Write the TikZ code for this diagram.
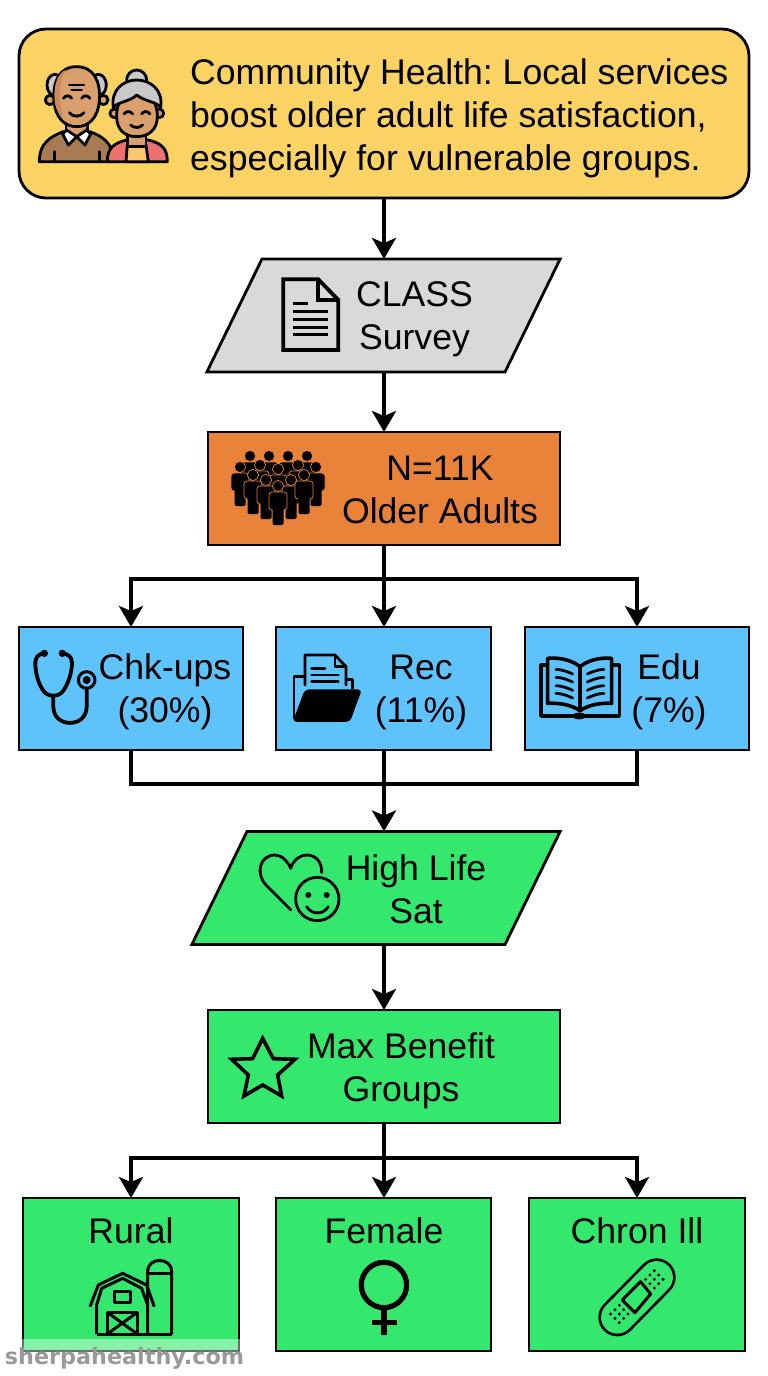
\documentclass[tikz,border=0pt]{standalone}
\usepackage{fontspec}
\setmainfont{Liberation Sans}
\newfontfamily\markfont{DejaVu Sans}
\usetikzlibrary{arrows.meta,shapes.geometric}
\definecolor{titlefill}{HTML}{FBD264}
\definecolor{surveyfill}{HTML}{D9D9D9}
\definecolor{cohortfill}{HTML}{E9833A}
\definecolor{servicefill}{HTML}{5EC3FA}
\definecolor{outcomefill}{HTML}{33E86C}
\definecolor{skin}{HTML}{D9A06E}
\definecolor{skinshade}{HTML}{C98A5E}
\definecolor{sweater}{HTML}{A97B52}
\definecolor{cardigan}{HTML}{EE7070}
\definecolor{blouse}{HTML}{F9C86E}
\definecolor{hair}{HTML}{C9C9C9}
\tikzset{
  box/.style={rectangle, draw, line width=2.8pt, minimum width=#1, minimum height=113pt, inner sep=0pt, outer sep=0pt},
  slanted/.style={trapezium, trapezium left angle=64, trapezium right angle=116,
    draw, line width=2.8pt, text width=#1, text height=113pt, text depth=0pt, inner sep=0pt, outer sep=0pt},
  caption/.style={font=\fontsize{35.6}{43}\selectfont, align=center, inner sep=0pt},
  flow/.style={line width=3.4pt, -{Stealth[length=21pt, width=24pt, inset=5pt]}},
  trunk/.style={line width=3.4pt},
  icon/.style={line width=2.8pt, line cap=round, line join=round},
  iconat/.style={shift={(#1)}, x=0.3333pt, y=-0.3333pt}
}
\newcommand{\crowdperson}[2]{%
  \fill[black, draw=cohortfill, line width=0.7pt, rounded corners=3pt] (#1-9,#2+6) rectangle (#1+9,#2+24);
  \fill[black, rounded corners=1.5pt] (#1-5.5,#2+20) rectangle (#1+5.5,#2+39);
  \fill[black, draw=cohortfill, line width=0.7pt] (#1,#2) circle (5.6);
}
\begin{document}
\frenchspacing
\begin{tikzpicture}[x=1pt, y=-1pt]
    \useasboundingbox (0,0) rectangle (768,1376);

    % boxes
    \node[box=730pt, minimum height=169pt, rounded corners=27pt, fill=titlefill] (title) at (384,113.5) {};
    \node[slanted=243pt, fill=surveyfill] (survey) at (383.5,315.5) {};
    \node[box=352pt, fill=cohortfill] (cohort) at (384,488.5) {};
    \node[box=224pt, minimum height=123pt, fill=servicefill] (chk) at (131,688.5) {};
    \node[box=215pt, minimum height=123pt, fill=servicefill] (rec) at (383.5,688.5) {};
    \node[box=224pt, minimum height=123pt, fill=servicefill] (edu) at (637,688.5) {};
    \node[slanted=258pt, fill=outcomefill] (life) at (376,888) {};
    \node[box=352pt, fill=outcomefill] (benefit) at (384,1066.5) {};
    \node[box=216pt, minimum height=153pt, fill=outcomefill] (rural) at (131,1274.5) {};
    \node[box=215pt, minimum height=153pt, fill=outcomefill] (female) at (383.5,1274.5) {};
    \node[box=216pt, minimum height=153pt, fill=outcomefill] (chron) at (637,1274.5) {};

    % texts
    \node[caption, align=left, anchor=west] (titletext) at (190,118) {Community Health: Local services\\boost older adult life satisfaction,\\especially for vulnerable groups.};
    \node[caption] (surveytext) at (414.5,319.5) {CLASS\\Survey};
    \node[caption] (cohorttext) at (440,489.5) {N=11K\\Older Adults};
    \node[caption] (chktext) at (165,692) {Chk-ups\\(30\%)};
    \node[caption] (rectext) at (421,692) {Rec\\(11\%)};
    \node[caption] (edutext) at (669,692) {Edu\\(7\%)};
    \node[caption] (lifetext) at (416,889) {High Life\\Sat};
    \node[caption] (benefittext) at (401,1071) {Max Benefit\\Groups};
    \node[caption] (ruraltext) at (131,1231) {Rural};
    \node[caption] (femaletext) at (384,1231) {Female};
    \node[caption] (chrontext) at (637,1231) {Chron Ill};

    % connectors
    \coordinate (split1) at (384,579);
    \coordinate (merge) at (384,784);
    \coordinate (split2) at (384,1158);
    \draw[flow] (title.south) -- (title.south |- survey.north);
    \draw[flow] (title.south |- survey.south) -- (cohort.north);
    \draw[trunk] (cohort.south) -- (split1);
    \draw[flow] (split1) -- (rec.north -| split1);
    \draw[flow] (split1) -| (chk.north);
    \draw[flow] (split1) -| (edu.north);
    \draw[trunk] (chk.south) |- (merge);
    \draw[trunk] (edu.south) |- (merge);
    \draw[trunk] (rec.south -| merge) -- (merge);
    \draw[flow] (merge) -- (life.north -| merge);
    \draw[flow] (life.south -| merge) -- (benefit.north);
    \draw[trunk] (benefit.south) -- (split2);
    \draw[flow] (split2) -- (female.north -| split2);
    \draw[flow] (split2) -| (rural.north);
    \draw[flow] (split2) -| (chron.north);

    % couple
    \begin{scope}[iconat={20,30}, icon]
      \draw[fill=hair] (105,165) ellipse (24 and 32);
      \draw[fill=hair] (235,165) ellipse (24 and 32);
      \draw[fill=skin] (90,210) circle (14);
      \draw[fill=skin] (250,210) circle (14);
      \draw[fill=sweater] (58,395) .. controls (58,340) and (90,320) .. (130,305) -- (210,305) .. controls (250,320) and (280,340) .. (280,395) -- cycle;
      \draw[fill=skin] (138,270) rectangle (202,318);
      \draw[fill=white] (128,312) -- (140,300) -- (170,320) -- (145,345) -- cycle;
      \draw[fill=white] (212,312) -- (200,300) -- (170,320) -- (195,345) -- cycle;
      \draw[fill=skin] (170,110) .. controls (222,110) and (242,155) .. (238,210) .. controls (235,265) and (205,290) .. (170,290) .. controls (135,290) and (105,265) .. (102,210) .. controls (98,155) and (118,110) .. (170,110) -- cycle;
      \fill[skinshade] (140,118) .. controls (110,130) and (100,170) .. (104,215) .. controls (108,240) and (118,255) .. (130,265) .. controls (115,210) and (115,150) .. (140,118) -- cycle;
      \draw (148,165) -- (192,165) (155,180) -- (185,180);
      \draw (130,205) .. controls (138,195) and (148,195) .. (155,205);
      \draw (185,205) .. controls (192,195) and (202,195) .. (210,205);
      \draw (148,248) .. controls (158,262) and (182,262) .. (192,248);
      \draw (103,365) -- (103,395) (238,365) -- (238,395);
      \draw[fill=hair] (350,150) circle (30);
      \draw[fill=cardigan] (262,395) .. controls (262,355) and (280,340) .. (320,330) -- (385,330) .. controls (425,340) and (442,355) .. (442,395) -- cycle;
      \draw[fill=blouse] (318,395) -- (322,345) -- (378,345) -- (385,395) -- cycle;
      \draw[fill=skin] (283,250) circle (13);
      \draw[fill=skin] (418,250) circle (13);
      \draw[fill=skin] (322,300) rectangle (378,350);
      \draw[fill=skin] (350,190) .. controls (400,190) and (412,225) .. (412,260) .. controls (412,300) and (385,320) .. (350,320) .. controls (315,320) and (290,300) .. (290,260) .. controls (290,225) and (300,190) .. (350,190) -- cycle;
      \draw[fill=hair] (280,232) .. controls (272,180) and (310,150) .. (350,150) .. controls (392,150) and (430,180) .. (422,232) .. controls (410,215) and (375,215) .. (350,195) .. controls (330,215) and (295,215) .. (280,232) -- cycle;
      \draw (312,252) .. controls (320,242) and (330,242) .. (338,252);
      \draw (365,252) .. controls (372,242) and (382,242) .. (390,252);
      \draw (332,285) .. controls (342,295) and (358,295) .. (368,285);
    \end{scope}

    % document
    \begin{scope}[iconat={200,250}, icon, line cap=butt]
      \draw[line width=3.8pt, line join=miter] (250,88) -- (355,88) -- (415,150) -- (415,300) -- (250,300) -- cycle;
      \draw[line width=3.8pt, line join=miter] (355,88) -- (355,150) -- (415,150);
      \draw[line width=3pt] (280,162) -- (325,162);
      \foreach \y in {185,208,232,255}
        \draw[line width=3pt] (280,\y) -- (385,\y);
    \end{scope}

    % crowd
    \foreach \x/\y in {250/456,269/456,288/456,307/456,240/467,260/465,298/465,316/467,278/469,253/475,266/480,291/480,304/475,278/486}
      \crowdperson{\x}{\y};

    % stethoscope
    \begin{scope}[iconat={10,620}, icon, line width=3.8pt]
      \fill (103,100) circle (11);
      \fill (157,100) circle (11);
      \draw (103,100) .. controls (85,102) and (75,110) .. (76,135) .. controls (78,165) and (85,190) .. (100,212) .. controls (112,232) and (148,232) .. (160,212) .. controls (175,190) and (185,160) .. (186,130) .. controls (186,110) and (175,102) .. (157,100);
      \draw (130,228) -- (130,260) .. controls (130,325) and (230,325) .. (230,260) -- (230,205);
      \draw[line width=3pt] (230,180) circle (25);
      \fill (230,180) circle (12);
    \end{scope}

    % folder
    \begin{scope}[iconat={10,620}, icon]
      \draw (852,295) -- (852,170) -- (885,170);
      \draw (885,195) -- (885,105) -- (975,105) -- (1008,140) -- (1008,195);
      \draw (975,105) -- (975,140) -- (1008,140);
      \draw (1008,178) -- (1028,178) -- (1028,205);
      \draw (905,145) -- (945,145) (905,165) -- (985,165) (905,185) -- (985,185);
      \fill[rounded corners=4pt] (885,208) -- (1056,208) -- (1020,306) -- (848,306) -- cycle;
    \end{scope}

    % book
    \begin{scope}[iconat={380,620}, icon, line width=3.6pt]
      \draw (500,135) -- (483,135) -- (483,288) -- (575,288);
      \draw (695,135) -- (718,135) -- (718,288) -- (618,288);
      \draw (600,140) .. controls (575,120) and (540,112) .. (503,115) -- (503,250) .. controls (540,248) and (575,255) .. (600,272);
      \draw (600,140) .. controls (625,120) and (660,112) .. (695,115) -- (695,250) .. controls (660,248) and (625,255) .. (600,272);
      \draw (600,140) -- (600,272);
      \fill (575,282) rectangle (620,292);
      \fill (597,288) ellipse (20 and 10);
      \foreach \y in {148,172,197,220} {
        \draw[line width=2.8pt] (528,\y) .. controls (545,\y) and (565,\y+8) .. (578,\y+14);
        \draw[line width=2.8pt] (672,\y) .. controls (655,\y) and (635,\y+8) .. (622,\y+14);
      }
    \end{scope}

    % heart and smiley
    \begin{scope}[iconat={180,820}, icon]
      \draw (333,270) -- (258,195) .. controls (225,160) and (240,105) .. (285,105) .. controls (305,105) and (325,125) .. (332,145) .. controls (340,120) and (360,105) .. (380,105) .. controls (410,105) and (427,130) .. (425,158);
      \draw (412,237) circle (65);
      \fill (385,225) circle (9);
      \fill (440,225) circle (9);
      \draw (380,260) .. controls (395,285) and (430,285) .. (445,260);
    \end{scope}

    % star
    \begin{scope}[iconat={180,820}, icon, line width=3.6pt, line join=miter]
      \draw (248,655) -- (280,716) -- (345,718) -- (293,765) -- (305,828) -- (248,795) -- (192,828) -- (205,765) -- (155,718) -- (218,716) -- cycle;
    \end{scope}

    % barn
    \begin{scope}[iconat={0,1190}, icon, line cap=butt, line width=3pt]
      \draw (443,432) -- (443,245) .. controls (443,200) and (515,200) .. (515,245) -- (515,432);
      \draw (443,250) -- (515,250);
      \draw (290,432) -- (515,432);
      \draw (290,432) -- (290,345) -- (305,295) -- (368,265) -- (425,295) -- (443,345);
      \draw (270,350) -- (295,285) -- (368,250) -- (440,285) -- (463,350);
      \draw (343,305) rectangle (392,338);
      \draw (322,432) -- (322,367) -- (412,367) -- (412,432);
      \draw (322,367) -- (412,432) (412,367) -- (322,432);
    \end{scope}

    % female sign
    \begin{scope}[iconat={0,1190}, line width=5.2pt]
      \draw (1152,285) circle (68);
      \draw (1152,353) -- (1152,435);
      \draw (1115,398) -- (1190,398);
    \end{scope}

    % bandage
    \begin{scope}[iconat={520,1190}, line cap=round]
      \draw[line width=38pt] (292,382) -- (410,262);
      \draw[outcomefill, line width=32.5pt] (292,382) -- (410,262);
      \draw[icon, line width=3pt] (362,275) -- (392,312) -- (345,368) -- (307,330) -- cycle;
      \foreach \a/\b in {298/372,403/268}
        \foreach \i in {-1,0,1}
          \foreach \j in {-1,0,1}
            \fill (\a+\i*13+\j*13,\b+\i*13-\j*13) circle (5);
    \end{scope}

    % site mark
    \fill[white, opacity=0.42] (21,1339) rectangle (241,1353);
    \node[font=\markfont\bfseries\fontsize{22.3}{26}\selectfont, text=black!40, inner sep=0pt] (sitemark) at (124.5,1358) {sherpahealthy.com};
\end{tikzpicture}
\end{document}
